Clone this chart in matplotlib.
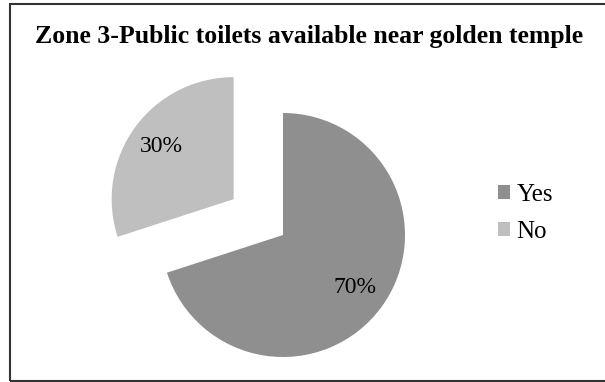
import matplotlib
matplotlib.use('Agg')
import matplotlib.pyplot as plt
from matplotlib.patches import Rectangle

# Survey result for zone 3
labels = ['Yes', 'No']
shares = [70, 30]
colors = ['#8f8f8f', '#bfbfbf']

plt.rcParams['font.family'] = ['Liberation Serif', 'DejaVu Serif']

W, H = 605, 382
fig = plt.figure(figsize=(W / 100, H / 100), dpi=100)

# Outer frame (open on the right side)
fig.patches.append(Rectangle((10 / W, 1 / H), 1.0, (381 - 4) / H,
                             transform=fig.transFigure, fill=False,
                             edgecolor='#333333', linewidth=1.5))

fig.text(0.5 + 7 / W, 1 - 37 / H, 'Zone 3-Public toilets available near golden temple',
         ha='center', va='center', fontsize=18.5, fontweight='bold')

# Pie axes: centre of the unexploded slice at (283, 235), radius 122 px
r = 122
cx, cy = 283, 235
ax = fig.add_axes([(cx - r) / W, (H - cy - r) / H, 2 * r / W, 2 * r / H])
wedges, texts, autotexts = ax.pie(
    shares, colors=colors, startangle=90, counterclock=False,
    explode=[0, 0.5], autopct='%d%%', pctdistance=0.73,
    textprops={'fontsize': 17, 'color': 'black'}, radius=1.0)
ax.set_xlim(-1, 1)
ax.set_ylim(-1, 1)
ax.set_aspect('equal')
ax.axis('off')

# Legend
leg = fig.legend(wedges, labels, loc='upper left',
                 bbox_to_anchor=(485 / W, 1 - 171 / H),
                 frameon=False, fontsize=18, handlelength=0.5, handleheight=0.5,
                 handletextpad=0.25, labelspacing=0.6, borderpad=0)

fig.savefig('out.png', dpi=100)
